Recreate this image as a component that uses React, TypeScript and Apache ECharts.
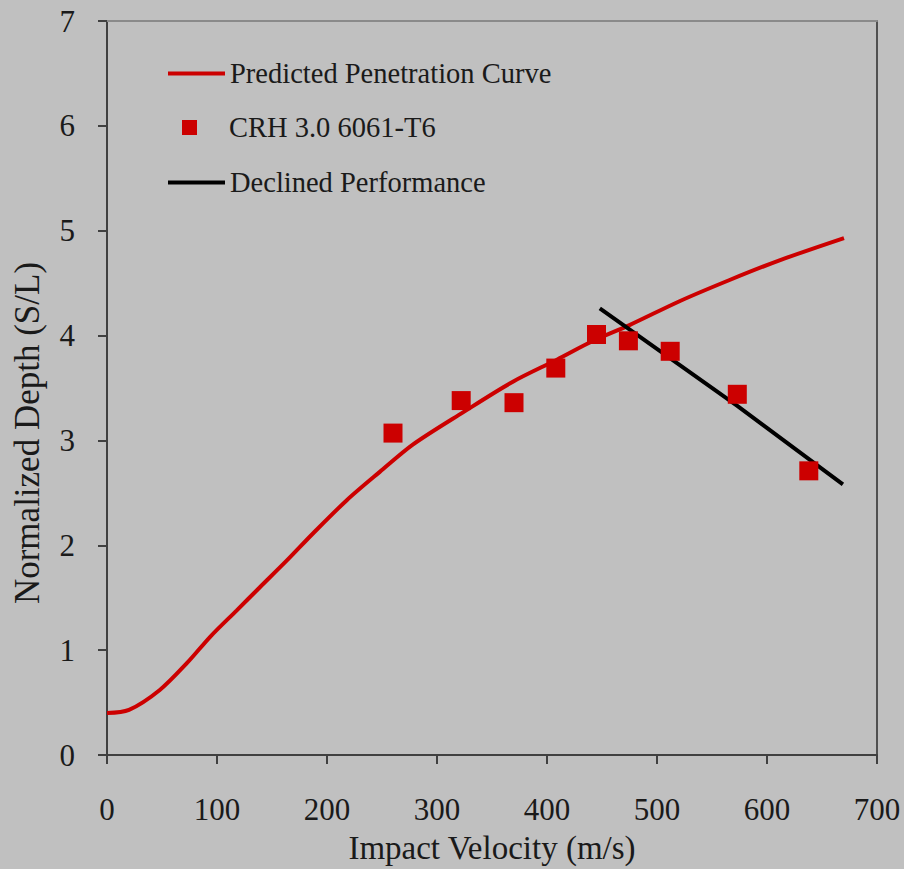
import React, { useEffect, useRef } from "react";
import * as echarts from "echarts";

const curveX = [0, 20, 48, 73, 94, 118, 139, 164, 187, 218, 248, 278, 324, 369, 409, 442, 475, 521, 566, 612, 670];
const curveY = [0.4, 0.43, 0.62, 0.88, 1.13, 1.38, 1.6, 1.86, 2.11, 2.43, 2.7, 2.96, 3.27, 3.56, 3.77, 3.95, 4.1, 4.33, 4.53, 4.72, 4.93];

const testX = [260, 322, 370, 408, 445, 474, 512, 573, 638];
const testY = [3.07, 3.38, 3.36, 3.69, 4.01, 3.95, 3.85, 3.44, 2.71];

const declX = [448, 573, 669];
const declY = [4.26, 3.33, 2.58];

const xTicks = { min: 0, max: 700, interval: 100 };
const yTicks = { min: 0, max: 7, interval: 1 };

const NAMES = ["Predicted Penetration Curve", "CRH 3.0 6061-T6", "Declined Performance"];

const FONT = "Liberation Serif";
const TXT = "#1a1a1a";
const RED = "#cc0000";

export default function App() {
  const ref = useRef<HTMLDivElement>(null);
  useEffect(() => {
    document.body.style.margin = "0";
    const chart = echarts.init(ref.current!, null, { renderer: "svg" });
    const legendBase = {
      orient: "horizontal",
      padding: 0,
      itemGap: 0,
      textStyle: { fontFamily: FONT, fontSize: 28.5, color: TXT },
    };
    chart.setOption({
      animation: false,
      backgroundColor: "#c0c0c0",
      textStyle: { fontFamily: FONT },
      grid: { left: 107, right: 27, top: 21, bottom: 114, containLabel: false },
      legend: [
        { ...legendBase, data: [{ name: NAMES[0], icon: "rect" }], left: 168, top: 59, itemWidth: 57, itemHeight: 4 },
        {
          ...legendBase,
          data: [{ name: NAMES[1], icon: "rect" }],
          left: 182,
          top: 113,
          itemWidth: 15,
          itemHeight: 15,
          textStyle: { ...legendBase.textStyle, padding: [0, 0, 0, 27] },
        },
        { ...legendBase, data: [{ name: NAMES[2], icon: "rect" }], left: 168, top: 168, itemWidth: 57, itemHeight: 4 },
      ],
      xAxis: [
        {
          type: "value",
          ...xTicks,
          name: "Impact Velocity (m/s)",
          nameLocation: "middle",
          nameGap: 76,
          nameTextStyle: { fontFamily: FONT, fontSize: 33, color: TXT },
          axisLine: { show: true, onZero: false, lineStyle: { color: "#404040", width: 2 } },
          axisTick: { show: true, inside: false, length: 9, lineStyle: { color: "#404040", width: 2 } },
          axisLabel: { fontFamily: FONT, fontSize: 31, color: TXT, margin: 39 },
          splitLine: { show: false },
        },
        {
          type: "value",
          ...xTicks,
          position: "top",
          axisLine: { show: true, onZero: false, lineStyle: { color: "#8a8a8a", width: 2 } },
          axisTick: { show: false },
          axisLabel: { show: false },
          splitLine: { show: false },
        },
      ],
      yAxis: [
        {
          type: "value",
          ...yTicks,
          axisLine: { show: true, onZero: false, lineStyle: { color: "#404040", width: 2 } },
          axisTick: { show: true, inside: false, length: 9, lineStyle: { color: "#404040", width: 2 } },
          axisLabel: { fontFamily: FONT, fontSize: 31, color: TXT, margin: 32 },
          splitLine: { show: false },
        },
        {
          type: "value",
          ...yTicks,
          position: "right",
          axisLine: { show: true, onZero: false, lineStyle: { color: "#505050", width: 2 } },
          axisTick: { show: false },
          axisLabel: { show: false },
          splitLine: { show: false },
        },
      ],
      graphic: [
        {
          type: "text",
          x: 27,
          y: 433,
          rotation: Math.PI / 2,
          style: {
            text: "Normalized Depth (S/L)",
            fontFamily: FONT,
            fontSize: 35,
            fill: TXT,
            textAlign: "center",
            textVerticalAlign: "middle",
          },
        },
      ],
      series: [
        {
          name: NAMES[0],
          type: "line",
          data: curveX.map((x, i) => [x, curveY[i]]),
          smooth: 0.3,
          showSymbol: false,
          symbol: "none",
          lineStyle: { color: RED, width: 4 },
          itemStyle: { color: RED },
          z: 2,
        },
        {
          name: NAMES[2],
          type: "line",
          data: declX.map((x, i) => [x, declY[i]]),
          showSymbol: false,
          symbol: "none",
          lineStyle: { color: "#000000", width: 4 },
          itemStyle: { color: "#000000" },
          z: 3,
        },
        {
          name: NAMES[1],
          type: "scatter",
          data: testX.map((x, i) => [x, testY[i]]),
          symbol: "rect",
          symbolSize: 19,
          itemStyle: { color: RED, opacity: 1 },
          z: 4,
        },
      ],
    });
    return () => chart.dispose();
  }, []);
  return <div ref={ref} style={{ width: 904, height: 869 }} />;
}
